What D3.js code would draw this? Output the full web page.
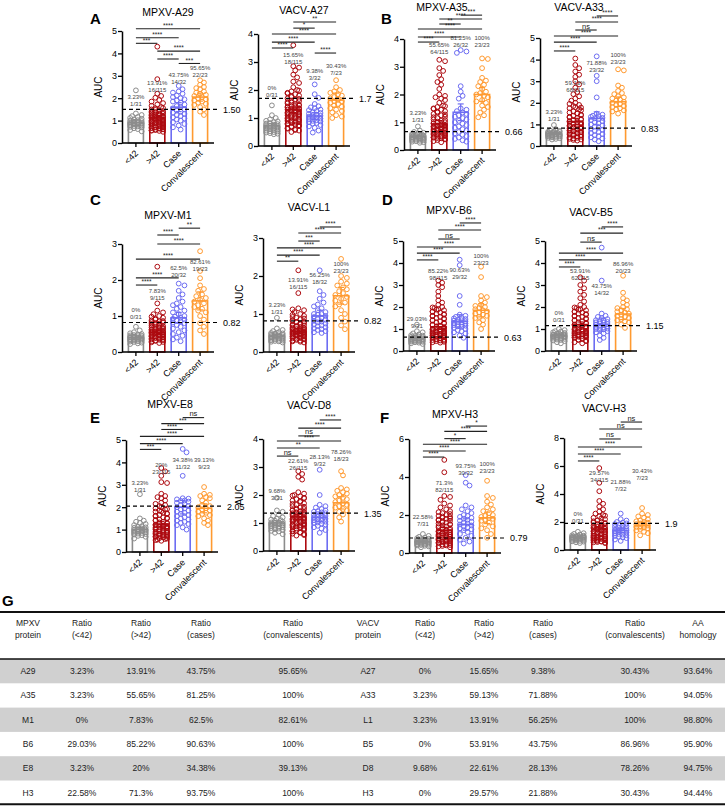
<!DOCTYPE html>
<html>
<head>
<meta charset="utf-8">
<script src="https://cdn.jsdelivr.net/npm/d3@7"></script>
<style>
  body { margin: 0; background: #fff; }
  text { font-family: "Liberation Sans", Arial, sans-serif; }
</style>
</head>
<body>
<script>
// ---- data ----
const groups = ['<42', '>42', 'Case', 'Convalescent'];
const totals = [31, 115, 32, 23];
const colors = ['#8c8c8c', '#ad0a10', '#6d6df2', '#ff9a30'];

const titles = ['MPXV-A29', 'VACV-A27', 'MPXV-A35', 'VACV-A33', 'MPXV-M1', 'VACV-L1',
                'MPXV-B6', 'VACV-B5', 'MPXV-E8', 'VACV-D8', 'MPXV-H3', 'VACV-H3'];
const yMax = [5, 4, 4, 5, 3, 3, 5, 5, 5, 4, 6, 8];
const yStep = [1, 1, 1, 1, 1, 1, 1, 1, 1, 1, 2, 2];
const cutoffs = [1.50, 1.7, 0.66, 0.83, 0.82, 0.82, 0.63, 1.15, 2.05, 1.35, 0.79, 1.9];
const cutoffLabels = ['1.50', '1.7', '0.66', '0.83', '0.82', '0.82', '0.63', '1.15', '2.05', '1.35', '0.79', '1.9'];

const means = [
  [0.9, 1.12, 1.6, 2.05], [0.72, 1.29, 1.07, 1.64], [0.48, 0.94, 1.36, 2.0], [0.58, 1.13, 1.28, 2.05],
  [0.4, 0.55, 0.95, 1.42], [0.42, 0.55, 0.95, 1.48], [0.56, 1.1, 1.35, 1.85], [0.7, 1.2, 1.2, 1.68],
  [1.0, 1.25, 2.0, 1.95], [1.0, 1.22, 1.2, 1.72], [0.6, 1.2, 1.5, 1.85], [0.9, 1.5, 1.4, 1.75]
];
const errs = [
  [0.12, 0.1, 0.2, 0.18], [0.08, 0.1, 0.12, 0.25], [0.05, 0.12, 0.3, 0.25], [0.05, 0.15, 0.3, 0.22],
  [0.05, 0.06, 0.15, 0.25], [0.05, 0.06, 0.15, 0.22], [0.07, 0.12, 0.3, 0.3], [0.06, 0.12, 0.3, 0.25],
  [0.1, 0.12, 0.3, 0.2], [0.08, 0.1, 0.15, 0.22], [0.07, 0.15, 0.3, 0.3], [0.08, 0.15, 0.15, 0.25]
];

const positives = [
  [1, 16, 14, 22], [0, 18, 3, 7], [1, 64, 26, 23], [1, 68, 23, 23], [0, 9, 20, 19], [1, 16, 18, 23],
  [9, 98, 29, 23], [0, 62, 14, 20], [1, 23, 11, 9], [3, 26, 9, 18], [7, 82, 30, 23], [0, 34, 7, 7]
];

// significance brackets: [group a, group b, label, level]
const brackets = [
  [[0,3,'****',5.1],[0,2,'****',4.7],[0,1,'***',4.45],[1,3,'****',4.1],[1,2,'****',3.75],[2,3,'***',3.55]],
  [[1,3,'**',4.43],[1,2,'*',4.21],[0,3,'****',4.0],[0,2,'****',3.71],[0,1,'****',3.5],[2,3,'****',3.32]],
  [[2,3,'***',4.86],[1,3,'****',4.72],[1,2,'**',4.54],[0,3,'****',4.36],[0,2,'****',4.07],[0,1,'****',3.89]],
  [[2,3,'****',6.02],[1,3,'****',5.74],[1,2,'ns',5.37],[0,3,'****',5.09],[0,2,'****',4.81],[0,1,'****',4.4]],
  [[2,3,'**',3.44],[1,2,'****',3.25],[1,3,'****',3.0],[0,3,'****',2.58],[0,2,'****',2.06],[0,1,'****',1.86]],
  [[2,3,'****',3.29],[1,3,'****',3.13],[1,2,'***',2.92],[0,3,'****',2.74],[0,2,'****',2.55],[0,1,'**',2.39]],
  [[2,3,'****',5.82],[1,3,'****',5.5],[1,2,'ns',5.09],[0,3,'****',4.73],[0,2,'****',4.45],[0,1,'****',4.14]],
  [[2,3,'****',5.64],[1,3,'***',5.36],[1,2,'ns',4.95],[0,3,'****',4.45],[0,2,'****',4.14],[0,1,'****',3.82]],
  [[2,3,'ns',6.0],[1,3,'***',5.73],[1,2,'****',5.47],[0,3,'****',5.16],[0,2,'****',4.84],[0,1,'***',4.58]],
  [[2,3,'****',4.68],[1,3,'****',4.39],[1,2,'ns',4.11],[0,3,'****',3.93],[0,2,'**',3.68],[0,1,'ns',3.39]],
  [[2,3,'*',6.68],[1,3,'****',6.4],[1,2,'*',6.02],[0,3,'****',5.72],[0,2,'****',5.37],[0,1,'****',5.05]],
  [[2,3,'ns',9.14],[1,3,'ns',8.64],[1,2,'ns',7.93],[0,3,'****',7.36],[0,2,'****',6.86],[0,1,'****',6.36]]
];

// level of the percent labels above each group
const labelLevels = [
  [2.05, 2.68, 3.04, 3.35], [2.07, 3.25, 2.68, 2.86], [1.33, 3.78, 4.03, 4.03], [1.57, 2.9, 3.84, 4.2],
  [1.17, 1.7, 2.33, 2.5], [1.24, 1.89, 2.03, 2.32], [1.45, 3.64, 3.68, 4.32], [1.73, 3.64, 2.95, 3.95],
  [3.07, 3.87, 4.09, 4.09], [2.14, 3.21, 3.36, 3.54], [1.9, 3.68, 4.58, 4.68], [2.6, 5.5, 4.86, 5.64]
];

// AUC values per subplot, per group
const points = [
  [ // A29
    [2.35,1.32,1.25,1.2,1.16,1.12,1.08,1.05,1.02,1.0,0.98,0.95,0.93,0.92,0.9,0.9,0.88,0.86,0.85,0.83,0.82,0.8,0.78,0.76,0.74,0.72,0.7,0.66,0.62,0.58,0.52],
    [4.3,2.85,2.2,2.1,2.02,1.92,1.85,1.78,1.72,1.66,1.6,1.55,1.5,1.46,1.42,1.38,1.35,1.32,1.3,1.27,1.24,1.22,1.2,1.18,1.16,1.14,1.12,1.1,1.08,1.06,1.04,1.02,1.0,0.98,0.96,0.94,0.92,0.9,0.88,0.86,0.84,0.82,0.8,0.78,0.76,0.74,0.72,0.7,0.68,0.66,0.63,0.6,0.57,0.54,0.5,
     1.56,1.48,1.41,1.36,1.29,1.25,1.21,1.17,1.13,1.09,1.05,1.01,0.97,0.93,0.89,0.87,0.83,0.79,0.75,0.71,0.67,0.64,0.61,0.58,0.55],
    [2.55,2.4,2.3,2.25,2.2,2.12,2.05,2.0,1.95,1.9,1.85,1.8,1.72,1.65,1.6,1.55,1.5,1.45,1.4,1.35,1.3,1.25,1.2,1.15,1.1,1.05,1.0,0.92,0.85,0.78,0.7,0.6],
    [2.8,2.7,2.6,2.5,2.45,2.4,2.3,2.25,2.2,2.15,2.1,2.05,2.0,1.95,1.9,1.85,1.8,1.75,1.7,1.6,1.5,1.4,1.25]
  ],
  [ // A27
    [1.45,1.1,1.0,0.95,0.9,0.88,0.85,0.82,0.8,0.78,0.76,0.74,0.72,0.7,0.7,0.68,0.66,0.65,0.63,0.62,0.6,0.58,0.57,0.55,0.53,0.52,0.5,0.48,0.46,0.44,0.42],
    [3.6,2.85,2.8,2.7,2.55,2.45,2.3,2.25,2.1,2.0,1.95,1.9,1.85,1.8,1.75,1.7,1.65,1.6,1.55,1.52,1.5,1.45,1.42,1.4,1.38,1.35,1.32,1.3,1.28,1.25,1.22,1.2,1.18,1.15,1.12,1.1,1.08,1.05,1.02,1.0,0.98,0.95,0.92,0.9,0.88,0.85,0.82,0.8,0.76,0.72,0.68,0.64,0.6,0.55,0.5,
     1.98,1.88,1.78,1.68,1.62,1.57,1.47,1.43,1.37,1.33,1.27,1.23,1.17,1.13,1.07,1.03,0.97,0.93,0.87,0.83,0.78,0.74,0.7,0.62,0.57],
    [2.2,1.85,1.72,1.5,1.42,1.38,1.35,1.3,1.28,1.25,1.2,1.18,1.15,1.12,1.1,1.08,1.05,1.02,1.0,0.98,0.95,0.92,0.9,0.88,0.85,0.82,0.8,0.75,0.7,0.65,0.55,0.48],
    [2.35,2.1,2.0,1.95,1.9,1.85,1.8,1.75,1.7,1.65,1.6,1.6,1.55,1.5,1.45,1.4,1.35,1.3,1.25,1.2,1.1,1.05,1.0]
  ],
  [ // A35
    [0.85,0.7,0.65,0.62,0.6,0.58,0.56,0.55,0.53,0.52,0.5,0.5,0.48,0.47,0.46,0.45,0.44,0.43,0.42,0.41,0.4,0.39,0.38,0.37,0.36,0.35,0.33,0.32,0.3,0.28,0.26],
    [3.25,3.2,2.95,2.85,2.7,2.55,2.45,2.35,2.2,2.0,1.95,1.9,1.85,1.8,1.7,1.6,1.55,1.5,1.45,1.4,1.35,1.3,1.25,1.2,1.15,1.1,1.05,1.0,0.98,0.95,0.92,0.9,0.88,0.85,0.82,0.8,0.78,0.75,0.72,0.7,0.68,0.65,0.62,0.6,0.58,0.55,0.52,0.5,0.48,0.45,0.42,0.4,0.36,0.32,0.28,
     1.58,1.48,1.38,1.28,1.18,1.08,1.02,0.97,0.93,0.89,0.86,0.83,0.79,0.76,0.73,0.69,0.66,0.63,0.59,0.56,0.53,0.49,0.46,0.43,0.38],
    [3.6,3.55,3.5,2.3,2.1,1.95,1.85,1.5,1.45,1.4,1.35,1.3,1.25,1.2,1.15,1.1,1.05,1.0,0.95,0.9,0.85,0.8,0.75,0.7,0.65,0.6,0.55,0.5,0.45,0.4,0.35,0.3],
    [3.3,3.28,2.95,2.6,2.5,2.45,2.35,2.3,2.2,2.1,2.05,2.0,1.95,1.9,1.8,1.75,1.7,1.6,1.55,1.45,1.35,1.25,1.18]
  ],
  [ // A33
    [0.97,0.78,0.72,0.7,0.68,0.66,0.65,0.63,0.62,0.6,0.6,0.58,0.57,0.56,0.55,0.54,0.53,0.52,0.5,0.5,0.48,0.47,0.46,0.45,0.44,0.42,0.4,0.38,0.36,0.33,0.3],
    [4.05,3.75,3.6,3.45,3.3,3.2,3.0,2.85,2.7,2.5,2.4,2.3,2.2,2.1,2.0,1.9,1.8,1.75,1.7,1.6,1.55,1.5,1.45,1.4,1.35,1.3,1.25,1.2,1.15,1.1,1.05,1.0,0.95,0.9,0.88,0.85,0.82,0.8,0.75,0.72,0.7,0.65,0.62,0.6,0.55,0.5,0.45,0.4,0.35,0.3,0.25,
     1.95,1.85,1.78,1.65,1.52,1.42,1.32,1.22,1.12,1.02,0.97,0.92,0.87,0.83,0.78,0.73,0.68,0.63,0.58,0.53,0.48,0.43,0.38,0.33,0.28],
    [4.15,3.25,3.0,2.25,1.5,1.45,1.4,1.38,1.35,1.3,1.28,1.25,1.2,1.15,1.1,1.05,1.0,0.95,0.9,0.85,0.8,0.75,0.7,0.65,0.6,0.55,0.5,0.45,0.4,0.35,0.3,0.22],
    [3.55,3.5,2.8,2.7,2.55,2.45,2.4,2.3,2.25,2.2,2.15,2.1,2.05,2.0,1.95,1.9,1.85,1.8,1.75,1.7,1.65,1.6,1.5]
  ],
  [ // M1
    [0.7,0.6,0.55,0.52,0.5,0.48,0.47,0.46,0.45,0.44,0.43,0.42,0.41,0.4,0.4,0.39,0.38,0.37,0.36,0.35,0.35,0.34,0.33,0.32,0.31,0.3,0.29,0.28,0.26,0.24,0.22],
    [2.37,1.35,1.15,1.1,1.05,1.0,0.95,0.9,0.88,0.85,0.82,0.8,0.78,0.75,0.72,0.7,0.68,0.66,0.65,0.63,0.62,0.6,0.58,0.57,0.56,0.55,0.54,0.53,0.52,0.5,0.49,0.48,0.47,0.46,0.45,0.44,0.43,0.42,0.41,0.4,0.38,0.36,0.34,0.32,0.3,0.28,0.25,
     0.98,0.92,0.86,0.83,0.79,0.76,0.73,0.69,0.67,0.64,0.61,0.59,0.56,0.54,0.51,0.49,0.46,0.44,0.41,0.39,0.37,0.35,0.33,0.31,0.27],
    [1.9,1.85,1.7,1.6,1.5,1.4,1.35,1.3,1.25,1.2,1.15,1.1,1.05,1.0,0.98,0.95,0.92,0.9,0.88,0.85,0.82,0.8,0.75,0.7,0.65,0.6,0.55,0.5,0.45,0.4,0.35,0.3],
    [2.8,2.25,2.05,1.85,1.75,1.7,1.6,1.55,1.5,1.45,1.4,1.35,1.3,1.25,1.2,1.15,1.1,1.0,0.9,0.8,0.7,0.6,0.5]
  ],
  [ // L1
    [0.9,0.62,0.58,0.55,0.52,0.5,0.49,0.48,0.47,0.46,0.45,0.44,0.43,0.42,0.41,0.4,0.4,0.39,0.38,0.37,0.36,0.35,0.34,0.33,0.32,0.31,0.3,0.29,0.28,0.27,0.25],
    [2.15,1.55,1.15,1.1,1.05,1.0,0.95,0.9,0.86,0.82,0.8,0.78,0.75,0.72,0.7,0.68,0.66,0.64,0.62,0.6,0.59,0.58,0.57,0.56,0.55,0.54,0.53,0.52,0.51,0.5,0.49,0.48,0.47,0.46,0.45,0.44,0.43,0.42,0.41,0.4,0.38,0.36,0.34,0.32,0.3,0.28,0.25,
     1.12,0.98,0.92,0.88,0.84,0.79,0.76,0.73,0.69,0.67,0.63,0.61,0.57,0.55,0.52,0.5,0.47,0.45,0.42,0.4,0.37,0.35,0.33,0.3,0.27],
    [2.15,1.6,1.5,1.4,1.3,1.25,1.2,1.15,1.1,1.05,1.0,1.0,0.98,0.95,0.92,0.9,0.88,0.85,0.82,0.8,0.78,0.75,0.72,0.7,0.68,0.65,0.62,0.6,0.58,0.55,0.52,0.5],
    [2.45,2.0,1.95,1.85,1.8,1.75,1.7,1.65,1.6,1.55,1.5,1.45,1.4,1.35,1.3,1.25,1.2,1.1,1.0,0.9,0.8,0.7,0.6]
  ],
  [ // B6
    [1.2,0.9,0.85,0.8,0.75,0.72,0.7,0.68,0.66,0.64,0.62,0.6,0.58,0.57,0.56,0.55,0.54,0.53,0.52,0.5,0.49,0.48,0.47,0.46,0.45,0.43,0.42,0.4,0.38,0.35,0.32],
    [3.2,3.1,3.0,2.9,2.7,2.5,2.3,2.2,2.1,2.0,1.95,1.9,1.85,1.8,1.75,1.7,1.65,1.6,1.55,1.5,1.45,1.4,1.35,1.3,1.25,1.2,1.15,1.1,1.05,1.0,0.98,0.95,0.92,0.9,0.88,0.85,0.82,0.8,0.78,0.75,0.72,0.7,0.68,0.65,0.62,0.6,0.58,0.55,0.52,0.5,0.48,0.45,0.42,0.4,0.38,
     1.98,1.88,1.78,1.68,1.58,1.48,1.38,1.28,1.18,1.08,1.02,0.97,0.93,0.89,0.86,0.83,0.79,0.76,0.73,0.69,0.66,0.63,0.57,0.53,0.47],
    [4.15,3.9,2.5,2.1,1.65,1.6,1.55,1.5,1.48,1.45,1.42,1.4,1.38,1.35,1.32,1.3,1.28,1.25,1.22,1.2,1.18,1.15,1.12,1.1,1.05,1.0,0.95,0.9,0.85,0.8,0.7,0.6],
    [3.83,3.36,2.5,2.45,2.3,2.2,2.1,2.05,2.0,1.95,1.9,1.85,1.8,1.75,1.7,1.65,1.6,1.55,1.5,1.4,1.3,1.2,1.0]
  ],
  [ // B5
    [1.0,0.95,0.9,0.88,0.85,0.82,0.8,0.78,0.76,0.75,0.74,0.72,0.7,0.7,0.68,0.67,0.66,0.65,0.64,0.63,0.62,0.6,0.58,0.56,0.55,0.52,0.5,0.48,0.45,0.4,0.35],
    [3.35,3.2,3.0,2.85,2.7,2.55,2.4,2.25,2.1,2.0,1.95,1.9,1.85,1.8,1.75,1.7,1.65,1.6,1.55,1.5,1.45,1.4,1.35,1.3,1.25,1.2,1.15,1.1,1.05,1.0,0.98,0.95,0.92,0.9,0.88,0.85,0.82,0.8,0.78,0.75,0.72,0.7,0.68,0.65,0.62,0.6,0.55,0.5,0.45,0.4,0.35,
     1.98,1.88,1.78,1.68,1.58,1.48,1.38,1.28,1.18,1.08,1.02,0.97,0.93,0.89,0.86,0.83,0.79,0.76,0.73,0.69,0.66,0.63,0.57,0.52,0.47],
    [4.7,3.2,1.7,1.6,1.55,1.5,1.45,1.4,1.38,1.35,1.32,1.3,1.28,1.25,1.22,1.2,1.18,1.15,1.12,1.1,1.08,1.05,1.02,1.0,0.98,0.95,0.9,0.85,0.8,0.7,0.6,0.5],
    [3.42,2.65,2.4,2.3,2.2,2.1,2.0,1.95,1.9,1.85,1.8,1.75,1.7,1.65,1.6,1.55,1.5,1.45,1.4,1.35,1.3,1.2,1.05]
  ],
  [ // E8
    [2.58,1.5,1.4,1.35,1.3,1.25,1.2,1.15,1.12,1.1,1.08,1.05,1.02,1.0,1.0,0.98,0.96,0.95,0.93,0.92,0.9,0.88,0.86,0.85,0.82,0.8,0.78,0.75,0.72,0.68,0.6],
    [3.75,3.6,3.4,3.12,3.08,2.6,2.5,2.45,2.4,2.3,2.2,2.1,2.0,1.95,1.9,1.85,1.8,1.75,1.7,1.65,1.6,1.55,1.5,1.45,1.4,1.35,1.3,1.25,1.2,1.18,1.15,1.12,1.1,1.08,1.05,1.02,1.0,0.98,0.95,0.92,0.9,0.88,0.85,0.82,0.8,0.78,0.75,0.72,0.7,0.65,0.6,0.55,0.5,
     2.15,2.05,1.92,1.82,1.72,1.62,1.52,1.42,1.32,1.27,1.22,1.14,1.09,1.04,0.99,0.94,0.89,0.84,0.79,0.74,0.69,0.67,0.62,0.58,0.53],
    [4.6,4.45,3.4,2.4,2.38,2.35,2.3,2.28,2.25,2.2,2.15,2.1,2.05,2.0,1.95,1.9,1.85,1.8,1.75,1.7,1.65,1.6,1.55,1.5,1.45,1.4,1.35,1.3,1.25,1.2,1.1,1.0],
    [2.9,2.6,2.55,2.5,2.45,2.4,2.3,2.2,2.1,2.05,2.0,1.95,1.9,1.85,1.8,1.75,1.7,1.65,1.6,1.5,1.4,1.3,1.2]
  ],
  [ // D8
    [1.9,1.45,1.4,1.3,1.25,1.2,1.15,1.12,1.1,1.08,1.05,1.02,1.0,1.0,0.98,0.96,0.95,0.93,0.92,0.9,0.88,0.86,0.85,0.82,0.8,0.78,0.75,0.72,0.7,0.65,0.6],
    [2.85,2.75,2.65,2.55,2.1,2.05,2.0,1.95,1.9,1.85,1.8,1.75,1.7,1.65,1.6,1.55,1.5,1.48,1.45,1.42,1.4,1.38,1.35,1.32,1.3,1.28,1.25,1.22,1.2,1.18,1.15,1.12,1.1,1.08,1.05,1.02,1.0,0.98,0.95,0.92,0.9,0.88,0.85,0.82,0.8,0.75,0.7,0.65,0.6,0.55,
     1.98,1.88,1.78,1.68,1.58,1.52,1.46,1.41,1.36,1.31,1.26,1.21,1.16,1.11,1.06,1.01,0.96,0.91,0.86,0.81,0.77,0.72,0.67,0.62,0.57],
    [2.9,2.0,1.65,1.6,1.55,1.5,1.45,1.42,1.4,1.38,1.35,1.32,1.3,1.28,1.25,1.22,1.2,1.18,1.15,1.12,1.1,1.08,1.05,1.02,1.0,0.98,0.95,0.9,0.85,0.8,0.75,0.65],
    [2.85,2.7,2.25,2.2,2.15,2.1,2.05,2.0,1.95,1.9,1.85,1.8,1.75,1.7,1.65,1.6,1.55,1.5,1.45,1.4,1.3,1.2,1.05]
  ],
  [ // MPXV-H3
    [1.0,0.9,0.85,0.8,0.78,0.75,0.72,0.7,0.68,0.66,0.65,0.63,0.62,0.6,0.6,0.58,0.57,0.56,0.55,0.54,0.52,0.5,0.48,0.46,0.45,0.43,0.42,0.4,0.38,0.35,0.3],
    [4.9,4.25,3.0,2.95,2.8,2.6,2.5,2.4,2.3,2.2,2.1,2.0,1.95,1.9,1.85,1.8,1.75,1.7,1.65,1.6,1.55,1.5,1.45,1.4,1.35,1.3,1.25,1.2,1.15,1.1,1.05,1.0,0.98,0.95,0.92,0.9,0.88,0.85,0.82,0.8,0.78,0.75,0.72,0.7,0.68,0.65,0.62,0.6,0.55,0.5,0.45,0.4,0.35,0.3,
     2.15,2.05,1.92,1.82,1.72,1.62,1.52,1.42,1.32,1.22,1.12,1.02,0.96,0.91,0.86,0.81,0.76,0.71,0.66,0.61,0.57,0.52,0.47,0.42,0.37],
    [4.1,3.7,3.55,2.5,2.4,2.3,2.2,2.1,2.0,1.95,1.9,1.85,1.8,1.75,1.7,1.65,1.6,1.55,1.5,1.45,1.4,1.35,1.3,1.25,1.2,1.1,1.0,0.9,0.8,0.7,0.6,0.5],
    [3.8,3.0,2.9,2.7,2.55,2.4,2.3,2.2,2.1,2.0,1.95,1.9,1.85,1.8,1.75,1.7,1.6,1.5,1.4,1.3,1.2,1.0,0.8]
  ],
  [ // VACV-H3
    [1.3,1.2,1.15,1.1,1.05,1.02,1.0,0.98,0.96,0.95,0.93,0.92,0.9,0.9,0.88,0.86,0.85,0.84,0.82,0.8,0.78,0.76,0.75,0.72,0.7,0.68,0.65,0.62,0.6,0.55,0.5],
    [5.85,4.8,4.2,3.5,3.3,3.1,2.9,2.75,2.6,2.5,2.4,2.3,2.2,2.1,2.0,1.95,1.9,1.85,1.8,1.75,1.7,1.65,1.6,1.55,1.5,1.45,1.4,1.35,1.3,1.25,1.2,1.15,1.1,1.05,1.0,0.98,0.95,0.92,0.9,0.88,0.85,0.82,0.8,0.75,0.7,0.65,0.6,0.55,0.5,
     2.45,2.25,2.05,1.92,1.82,1.72,1.62,1.52,1.47,1.42,1.32,1.27,1.22,1.12,1.02,0.96,0.91,0.86,0.81,0.77,0.72,0.67,0.62,0.57,0.52],
    [2.6,2.2,2.1,2.0,1.95,1.9,1.85,1.8,1.75,1.7,1.65,1.6,1.55,1.5,1.45,1.42,1.4,1.38,1.35,1.32,1.3,1.25,1.2,1.15,1.1,1.05,1.0,0.95,0.9,0.85,0.75,0.65],
    [3.0,2.6,2.5,2.4,2.3,2.2,2.1,2.05,2.0,1.95,1.9,1.85,1.8,1.75,1.7,1.65,1.6,1.55,1.5,1.4,1.3,1.2,1.05]
  ]
];

// table G
const tableHeaders = [['MPXV', 'protein'], ['Ratio', '(<42)'], ['Ratio', '(>42)'], ['Ratio', '(cases)'], ['Ratio', '(convalescents)'],
                      ['VACV', 'protein'], ['Ratio', '(<42)'], ['Ratio', '(>42)'], ['Ratio', '(cases)'], ['Ratio', '(convalescents)'], ['AA', 'homology']];
const mpxvProteins = ['A29', 'A35', 'M1', 'B6', 'E8', 'H3'];
const vacvProteins = ['A27', 'A33', 'L1', 'B5', 'D8', 'H3'];
const mpxvRatios = [
  ['3.23%', '13.91%', '43.75%', '95.65%'], ['3.23%', '55.65%', '81.25%', '100%'], ['0%', '7.83%', '62.5%', '82.61%'],
  ['29.03%', '85.22%', '90.63%', '100%'], ['3.23%', '20%', '34.38%', '39.13%'], ['22.58%', '71.3%', '93.75%', '100%']
];
const vacvRatios = [
  ['0%', '15.65%', '9.38%', '30.43%'], ['3.23%', '59.13%', '71.88%', '100%'], ['3.23%', '13.91%', '56.25%', '100%'],
  ['0%', '53.91%', '43.75%', '86.96%'], ['9.68%', '22.61%', '28.13%', '78.26%'], ['0%', '29.57%', '21.88%', '30.43%']
];
const homology = ['93.64%', '94.05%', '98.80%', '95.90%', '94.75%', '94.44%'];

// ---- layout ----
const W = 725, H = 806;
const panels = [
  { x: 122, top: 31, base: 143, tx: 46, ty: 12 }, { x: 258, top: 34, base: 146, tx: 46, ty: 10 },
  { x: 404, top: 39, base: 150, tx: 38, ty: 7 }, { x: 540, top: 38, base: 146, tx: 39, ty: 7 },
  { x: 122, top: 244, base: 352, tx: 46, ty: 215 }, { x: 263, top: 238, base: 352, tx: 46, ty: 207 },
  { x: 403, top: 241, base: 351, tx: 46, ty: 210 }, { x: 545, top: 241, base: 351, tx: 46, ty: 212 },
  { x: 126, top: 440, base: 552, tx: 44, ty: 404 }, { x: 263, top: 439, base: 551, tx: 46, ty: 405 },
  { x: 409, top: 439, base: 553, tx: 46, ty: 414 }, { x: 564, top: 438, base: 550, tx: 40, ty: 408 }
];
const letters = [['A', 90, 24], ['B', 381, 24], ['C', 90, 205], ['D', 382, 205], ['E', 90, 423], ['F', 380, 423], ['G', 2, 606]];
const plotW = 92, barW = 15, r = 2.4;

const svg = d3.select('body').append('svg')
  .attr('width', W).attr('height', H)
  .style('display', 'block');

letters.forEach(([t, x, y]) => {
  svg.append('text').attr('x', x).attr('y', y)
    .attr('font-size', '15px').attr('font-weight', 'bold').text(t);
});

// simple deterministic beeswarm offsets
function swarm(vals, yS, maxW) {
  const placed = [];
  return vals.map(v => {
    const py = yS(v);
    let best = 0, bestCost = Infinity;
    for (let k = 0; k <= 10 && bestCost > 0; k++) {
      for (const s of (k === 0 ? [0] : [k, -k])) {
        const dx = s * r * 0.8;
        if (Math.abs(dx) > maxW) continue;
        let cost = 0;
        placed.forEach(p => {
          const d = Math.hypot(p[0] - dx, p[1] - py);
          if (d < 1.8 * r) cost += 1.8 * r - d;
        });
        if (cost < bestCost) { bestCost = cost; best = dx; }
        if (cost === 0) break;
      }
    }
    placed.push([best, py]);
    return [best, v];
  });
}

panels.forEach((p, i) => {
  const g = svg.append('g');
  const y = d3.scaleLinear().domain([0, yMax[i]]).range([p.base, p.top]);
  const x = d3.scalePoint().domain(groups).range([p.x, p.x + plotW]).padding(0.65);

  // title
  g.append('text').attr('x', p.x + p.tx).attr('y', p.ty + 4)
    .attr('text-anchor', 'middle').attr('font-size', '10.5px').text(titles[i]);

  // y axis
  const yAxis = d3.axisLeft(y).tickValues(d3.range(0, yMax[i] + 0.001, yStep[i]))
    .tickFormat(d3.format('d')).tickSize(4).tickSizeOuter(0);
  const ya = g.append('g').attr('transform', `translate(${p.x},0)`).call(yAxis);
  ya.select('.domain').attr('stroke-width', 1.5);
  ya.selectAll('.tick line').attr('stroke-width', 1.3);
  ya.selectAll('.tick text').attr('font-size', '9px').attr('font-family', 'Liberation Sans, Arial, sans-serif').attr('x', -5);

  g.append('text')
    .attr('transform', `translate(${p.x - 20},${(p.base + p.top) / 2}) rotate(-90)`)
    .attr('text-anchor', 'middle').attr('font-size', '10px').text('AUC');

  // bars
  groups.forEach((grp, j) => {
    const cx = x(grp);
    g.append('rect')
      .attr('x', cx - barW / 2).attr('y', y(means[i][j]))
      .attr('width', barW).attr('height', p.base - y(means[i][j]))
      .attr('fill', 'white').attr('stroke', colors[j]).attr('stroke-width', 1.6);
  });

  // points
  groups.forEach((grp, j) => {
    const cx = x(grp);
    const pts = swarm(points[i][j], y, 7);
    g.selectAll(null).data(pts).enter().append('circle')
      .attr('cx', d => cx + d[0]).attr('cy', d => y(d[1]))
      .attr('r', r).attr('fill', 'none')
      .attr('stroke', colors[j]).attr('stroke-width', 1);
  });

  // error bars
  groups.forEach((grp, j) => {
    const cx = x(grp);
    const hi = y(means[i][j] + errs[i][j]), lo = y(means[i][j] - errs[i][j]);
    const eb = g.append('g').attr('stroke', colors[j]).attr('stroke-width', 1.2);
    eb.append('line').attr('x1', cx).attr('x2', cx).attr('y1', hi).attr('y2', lo);
    eb.append('line').attr('x1', cx - 3).attr('x2', cx + 3).attr('y1', hi).attr('y2', hi);
    eb.append('line').attr('x1', cx - 3).attr('x2', cx + 3).attr('y1', lo).attr('y2', lo);
  });

  // x axis
  g.append('line').attr('x1', p.x).attr('x2', p.x + plotW).attr('y1', p.base).attr('y2', p.base)
    .attr('stroke', '#000').attr('stroke-width', 1.5);
  groups.forEach(grp => {
    const cx = x(grp);
    g.append('line').attr('x1', cx).attr('x2', cx).attr('y1', p.base).attr('y2', p.base + 4)
      .attr('stroke', '#000').attr('stroke-width', 1.3);
    g.append('text')
      .attr('transform', `translate(${cx + 3},${p.base + 11}) rotate(-45)`)
      .attr('text-anchor', 'end').attr('font-size', '9px').text(grp);
  });

  // cutoff
  g.append('line').attr('x1', p.x).attr('x2', p.x + plotW + 6)
    .attr('y1', y(cutoffs[i])).attr('y2', y(cutoffs[i]))
    .attr('stroke', '#000').attr('stroke-width', 1.2).attr('stroke-dasharray', '4,3');
  g.append('text').attr('x', p.x + plotW + 9).attr('y', y(cutoffs[i]) + 3.5)
    .attr('font-size', '9px').text(cutoffLabels[i]);

  // percent labels
  const row = Math.floor(i / 2);
  const ratios = i % 2 === 0 ? mpxvRatios[row] : vacvRatios[row];
  groups.forEach((grp, j) => {
    const t = g.append('text').attr('x', x(grp)).attr('y', y(labelLevels[i][j]) + 2)
      .attr('text-anchor', 'middle').attr('font-size', '6px').attr('fill', '#444');
    t.append('tspan').attr('x', x(grp)).text(ratios[j]);
    t.append('tspan').attr('x', x(grp)).attr('dy', 7).text(positives[i][j] + '/' + totals[j]);
  });

  // significance brackets
  brackets[i].forEach(([a, b, lab, lev]) => {
    const x1 = x(groups[a]), x2 = x(groups[b]), yy = y(lev);
    g.append('line').attr('x1', x1).attr('x2', x2).attr('y1', yy).attr('y2', yy)
      .attr('stroke', '#222').attr('stroke-width', 1.1);
    g.append('text').attr('x', (x1 + x2) / 2).attr('y', lab === 'ns' ? yy - 1.5 : yy - 0.8)
      .attr('text-anchor', 'middle').attr('font-size', lab === 'ns' ? '7.5px' : '6.5px')
      .attr('fill', '#222').text(lab);
  });
});

// ---- table G ----
const colX = [28, 82, 141, 201, 293, 368, 425, 484, 543, 635, 698];
const tTop = 612, tHead = 659, rowH = 24.3;
const tg = svg.append('g').attr('font-size', '8.5px').attr('fill', '#222');

mpxvProteins.forEach((m, k) => {
  if (k % 2 === 0) {
    tg.append('rect').attr('x', 0).attr('y', tHead + k * rowH).attr('width', W).attr('height', rowH)
      .attr('fill', '#d0d0d0');
  }
});
[[tTop, 2], [tHead, 1.5], [tHead + 6 * rowH - 0.5, 2]].forEach(([yy, sw]) => {
  tg.append('line').attr('x1', 0).attr('x2', W).attr('y1', yy).attr('y2', yy)
    .attr('stroke', '#111').attr('stroke-width', sw);
});
tableHeaders.forEach((h, c) => {
  h.forEach((line, l) => {
    tg.append('text').attr('x', colX[c]).attr('y', 626 + l * 12)
      .attr('text-anchor', 'middle').text(line);
  });
});
mpxvProteins.forEach((m, k) => {
  const cells = [m, ...mpxvRatios[k], vacvProteins[k], ...vacvRatios[k], homology[k]];
  cells.forEach((c, ci) => {
    tg.append('text').attr('x', colX[ci]).attr('y', tHead + (k + 0.5) * rowH + 3)
      .attr('text-anchor', 'middle').text(c);
  });
});
</script>
</body>
</html>
